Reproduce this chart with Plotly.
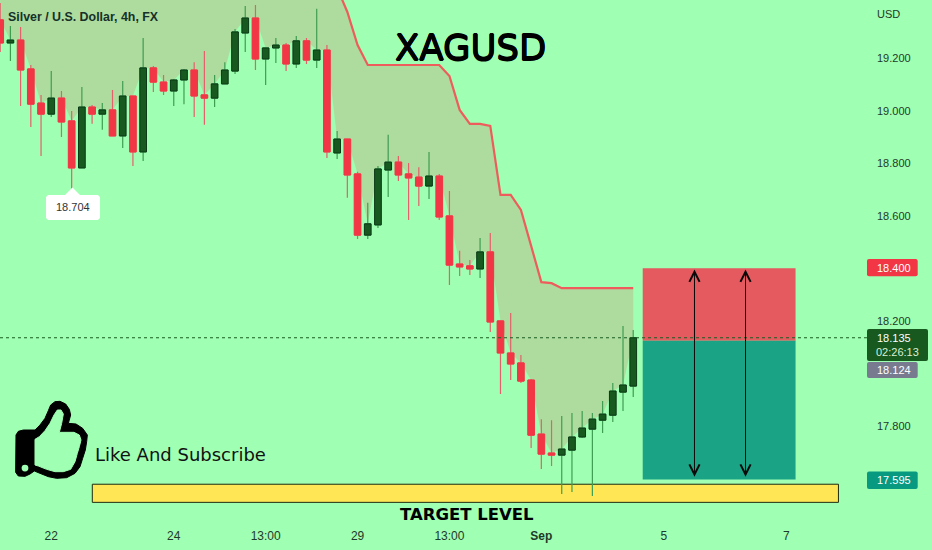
import plotly.graph_objects as go

W, H = 932, 550
ML, MR, MT, MB = 0, 64, 0, 25
PW, PH = W - ML - MR, H - MT - MB

BG = "#9FFFB2"
UP_BODY, UP_EDGE, UP_WICK = "#17591F", "#0B3A16", "#3F9D52"
DN_BODY, DN_WICK = "#F23645", "#E4606A"

bar_index = list(range(63))
open_ = [19.346,19.258,19.269,19.159,19.029,18.987,19.048,18.961,18.782,19.014,18.987,19.003,18.904,19.056,18.843,19.163,19.109,19.075,19.117,19.155,19.060,19.048,19.102,19.151,19.296,19.353,19.197,19.239,19.250,19.178,19.266,19.193,19.231,18.839,18.892,18.759,18.526,18.565,18.774,18.804,18.759,18.747,18.713,18.751,18.599,18.416,18.409,18.397,18.462,18.199,18.077,18.039,17.974,17.768,17.696,17.688,17.707,17.757,17.787,17.821,17.840,17.928,17.951]
high  = [19.410,19.323,19.319,19.174,19.060,19.151,19.075,18.999,19.090,19.022,19.029,19.079,19.113,19.056,19.277,19.170,19.136,19.121,19.159,19.185,19.227,19.136,19.185,19.311,19.399,19.403,19.239,19.277,19.258,19.285,19.277,19.388,19.250,18.923,18.892,18.767,18.649,18.789,18.908,18.827,18.801,18.785,18.843,18.759,18.694,18.466,18.431,18.515,18.534,18.199,18.229,18.069,17.978,17.825,17.821,17.837,17.848,17.856,17.848,17.894,17.963,18.180,18.165]
low   = [19.224,19.189,19.018,18.938,18.827,18.976,18.900,18.704,18.782,18.950,18.927,18.904,18.858,18.789,18.808,19.071,19.060,19.018,19.025,18.976,18.946,19.014,19.102,19.140,19.224,19.155,19.098,19.182,19.151,19.163,19.178,19.163,18.820,18.816,18.668,18.511,18.511,18.553,18.671,18.732,18.584,18.637,18.664,18.584,18.336,18.370,18.374,18.363,18.157,17.921,17.974,17.963,17.715,17.635,17.646,17.540,17.547,17.753,17.532,17.772,17.814,17.856,17.909]
close = [19.258,19.269,19.155,19.025,18.987,19.048,18.957,18.782,19.014,18.987,19.003,18.904,19.056,18.843,19.163,19.109,19.075,19.117,19.155,19.056,19.048,19.102,19.155,19.300,19.353,19.197,19.239,19.250,19.178,19.266,19.193,19.231,18.843,18.892,18.755,18.526,18.569,18.778,18.804,18.755,18.744,18.713,18.751,18.595,18.412,18.405,18.397,18.462,18.195,18.077,18.035,17.970,17.764,17.692,17.688,17.711,17.757,17.791,17.825,17.844,17.932,17.955,18.135]
stop_line = [19.60]*32 + [19.55,19.468,19.376,19.250,19.174,19.174,19.174,19.174,19.174,19.174,19.174,19.174,19.132,19.003,18.950,18.950,18.942,18.679,18.679,18.622,18.485,18.347,18.343,18.324,18.324,18.324,18.324,18.324,18.324,18.324,18.324]

x_tick_pos = [5, 17, 26, 35, 44, 53, 65, 77]
x_tick_text = ["22", "24", "13:00", "29", "13:00", "<b>Sep</b>", "5", "7"]
y_tick_vals = [19.2, 19.0, 18.8, 18.6, 18.2, 17.8]
y_tick_text = ["19.200", "19.000", "18.800", "18.600", "18.200", "17.800"]

LAST_PRICE = 18.135
ENTRY, STOP, TARGET = 18.124, 18.400, 17.595
LOW_LABEL = 18.704
Y_RANGE = [17.4217, 19.4217]

THUMB_OUTER = [(48,135),(55,124),(70,120),(105,120),(120,105),(135,85),(145,62),(152,45),(165,35),(180,34),(197,42),(208,58),(212,75),(205,100),(228,102),(248,115),(262,135),(260,155),(256,180),(248,205),(240,230),(225,250),(200,263),(170,265),(145,260),(120,250),(103,243),(90,252),(75,259),(55,258),(47,247)]
THUMB_INNER = [(105,148),(118,140),(135,122),(150,100),(162,75),(172,60),(183,60),(190,72),(185,100),(178,127),(222,127),(238,135),(243,150),(238,170),(232,190),(225,215),(212,238),(190,245),(165,245),(140,238),(115,228),(105,225)]


def fx(px):
    return (px - ML) / PW


def fy(py):
    return 1 - (py - MT) / PH


def poly(points):
    return "M" + "L".join(f"{fx(a):.5f},{fy(b):.5f}" for a, b in points) + "Z"


def thumb(points):
    return [(z[0] / 3, 390 + z[1] / 3) for z in points]


def round_rect(x0, y0, x1, y1, r=2):
    return (f"M{fx(x0+r):.5f},{fy(y0):.5f}L{fx(x1-r):.5f},{fy(y0):.5f}Q{fx(x1):.5f},{fy(y0):.5f} {fx(x1):.5f},{fy(y0+r):.5f}"
            f"L{fx(x1):.5f},{fy(y1-r):.5f}Q{fx(x1):.5f},{fy(y1):.5f} {fx(x1-r):.5f},{fy(y1):.5f}"
            f"L{fx(x0+r):.5f},{fy(y1):.5f}Q{fx(x0):.5f},{fy(y1):.5f} {fx(x0):.5f},{fy(y1-r):.5f}"
            f"L{fx(x0):.5f},{fy(y0+r):.5f}Q{fx(x0):.5f},{fy(y0):.5f} {fx(x0+r):.5f},{fy(y0):.5f}Z")


body_top = [max(a, b) for a, b in zip(open_, close)]
body_bot = [min(a, b) for a, b in zip(open_, close)]
body_size = [t - b for t, b in zip(body_top, body_bot)]
is_up = [c > o for o, c in zip(open_, close)]

fig = go.Figure()
fig.add_trace(go.Scatter(x=bar_index, y=body_top, mode="lines", line=dict(width=0, color="#AEDC9F"), hoverinfo="skip", showlegend=False))
fig.add_trace(go.Scatter(x=bar_index, y=stop_line, mode="lines", fill="tonexty", fillcolor="#AEDC9F", line=dict(color="#EE5C5C", width=2.2), hoverinfo="skip", showlegend=False))
fig.add_trace(go.Candlestick(x=bar_index, open=open_, high=high, low=low, close=close, whiskerwidth=0, yaxis="y2",
                             increasing=dict(line=dict(color=UP_WICK, width=1.2), fillcolor=UP_BODY),
                             decreasing=dict(line=dict(color=DN_WICK, width=1.2), fillcolor=DN_BODY),
                             showlegend=False, hoverinfo="skip"))
fig.add_trace(go.Bar(x=bar_index, y=body_size, base=body_bot, width=0.66, yaxis="y3",
                     marker=dict(color=[UP_BODY if u else DN_BODY for u in is_up],
                                 line=dict(color=[UP_EDGE if u else DN_BODY for u in is_up], width=1)),
                     showlegend=False, hoverinfo="skip"))

shapes = [
    dict(type="rect", xref="x", yref="y", x0=62.93, x1=77.9, y0=ENTRY, y1=STOP, fillcolor="#E45A5F", line=dict(width=0), layer="below"),
    dict(type="rect", xref="x", yref="y", x0=62.93, x1=77.9, y0=TARGET, y1=ENTRY, fillcolor="#1AA385", line=dict(width=0), layer="below"),
    dict(type="rect", xref="x", yref="y", x0=9.02, x1=82.1, y0=17.508, y1=17.577, fillcolor="#FFE655", line=dict(color="#1E2A10", width=1), layer="below"),
    dict(type="line", xref="paper", yref="y", x0=0, x1=1, y0=LAST_PRICE, y1=LAST_PRICE, line=dict(color="#1B5E20", width=1, dash="dot"), layer="above"),
    dict(type="path", xref="paper", yref="paper", path=poly(thumb(THUMB_OUTER)), fillcolor="#000000", line=dict(color="#000000", width=1), layer="above"),
    dict(type="path", xref="paper", yref="paper", path=poly(thumb(THUMB_INNER)), fillcolor=BG, line=dict(color=BG, width=1), layer="above"),
    dict(type="circle", xref="paper", yref="paper", x0=fx(21.6), x1=fx(28.4), y0=fy(464.7), y1=fy(471.5), fillcolor=BG, line=dict(width=0), layer="above"),
    dict(type="path", xref="paper", yref="paper", layer="above", fillcolor="#FFFFFF", line=dict(width=0),
         path=poly([(48,195),(65,195),(72.5,187.5),(80,195),(98,195),(100,197),(100,218),(98,220),(48,220),(46,218),(46,197)])),
]

annotations = []


def txt(px, py, text, size, color="#111111", family="DejaVu Sans", anchor="center", shadow=None):
    font = dict(size=size, color=color, family=family)
    if shadow:
        font["shadow"] = shadow
    annotations.append(dict(xref="paper", yref="paper", x=fx(px), y=fy(py), text=text, showarrow=False,
                            xanchor=anchor, yanchor="middle", font=font))


AXIS_FONT = "Liberation Sans"
for x0, y0, x1, y1, color, label, tx, ty in [
    (867, 259, 917.7, 276.3, "#F23645", "18.400", 894, 267.7),
    (867, 329, 928, 361, "#17591F", "18.135", 894, 338),
    (867, 362, 917.7, 378, "#787B8F", "18.124", 894, 370),
    (867, 471.5, 917.7, 489, "#089981", "17.595", 894, 480),
]:
    shapes.append(dict(type="path", xref="paper", yref="paper", path=round_rect(x0, y0, x1, y1), fillcolor=color, line=dict(width=0), layer="above"))
    txt(tx, ty, label, 11, "#FFFFFF", AXIS_FONT)
txt(897, 352, "02:26:13", 11, "#D8F0D8", AXIS_FONT)
txt(888, 14, "USD", 11, "#1E3A2A", AXIS_FONT)

txt(6, 17, "<b>Silver / U.S. Dollar, 4h, FX</b>", 12.4, "#16302A", AXIS_FONT, "left")
txt(72.5, 207.5, f"{LOW_LABEL:.3f}", 11, "#333333", AXIS_FONT)
txt(470, 47, "XAGUSD", 35.5, "#000000", shadow="0.6px 0 0 #000, -0.6px 0 0 #000, 0 0.6px 0 #000, 0 -0.6px 0 #000")
txt(93, 454, "Like And Subscribe", 18, "#111111", "DejaVu Sans", "left")
txt(467, 514, "<b>TARGET LEVEL</b>", 16.5, "#000000")

for xpos in (68, 73):
    annotations.append(dict(xref="x", yref="y", axref="x", ayref="y", x=xpos, y=STOP - 0.005, ax=xpos, ay=TARGET + 0.005,
                            text="", showarrow=True, arrowside="end+start", arrowhead=5, arrowsize=2, arrowwidth=1, arrowcolor="#0A0A0A",
                            startarrowhead=5, startarrowsize=2, standoff=0, startstandoff=0))

fig.update_layout(
    width=W, height=H, margin=dict(l=ML, r=MR, t=MT, b=MB),
    paper_bgcolor=BG, plot_bgcolor=BG, showlegend=False, barmode="overlay",
    shapes=shapes, annotations=annotations,
    font=dict(family=AXIS_FONT, size=11, color="#1E3A2A"),
    xaxis=dict(range=[-0.02, 84.995], tickmode="array", tickvals=x_tick_pos, ticktext=x_tick_text, showgrid=False, zeroline=False,
               showline=False, ticks="", rangeslider=dict(visible=False), tickfont=dict(size=12), ticklabelstandoff=2),
    yaxis=dict(range=Y_RANGE, side="right", tickmode="array", tickvals=y_tick_vals, ticktext=y_tick_text, showgrid=False,
               zeroline=False, showline=False, ticks="", tickfont=dict(size=11), ticklabelstandoff=8),
    yaxis2=dict(range=Y_RANGE, overlaying="y", side="right", visible=False),
    yaxis3=dict(range=Y_RANGE, overlaying="y", side="right", visible=False),
)
fig.write_html("out.html", config=dict(displayModeBar=False),
               post_script="document.body.style.margin='0';document.body.style.overflow='hidden';")
